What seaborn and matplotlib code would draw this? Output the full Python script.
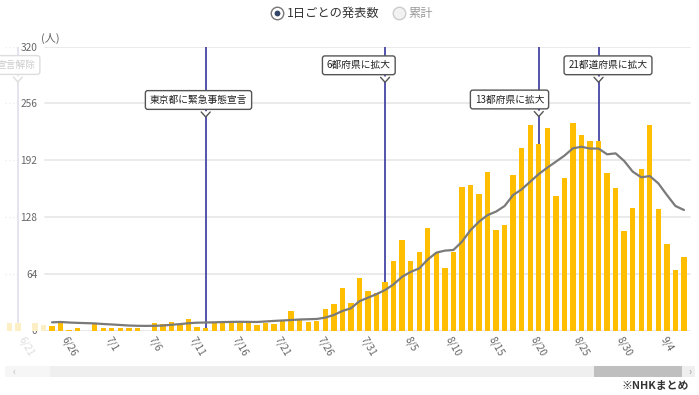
import numpy as np
import pandas as pd
import matplotlib
matplotlib.use("Agg")
import matplotlib.pyplot as plt
import seaborn as sns
from matplotlib.lines import Line2D
from matplotlib.patches import Rectangle, Polygon

# ---------------- data ----------------
dates = ["6/19", "6/20", "6/21", "6/22", "6/23",
         "6/24", "6/25", "6/26", "6/27", "6/28", "6/29", "6/30",
         "7/1", "7/2", "7/3", "7/4", "7/5", "7/6", "7/7", "7/8", "7/9", "7/10",
         "7/11", "7/12", "7/13", "7/14", "7/15", "7/16", "7/17", "7/18", "7/19", "7/20",
         "7/21", "7/22", "7/23", "7/24", "7/25", "7/26", "7/27", "7/28", "7/29", "7/30", "7/31",
         "8/1", "8/2", "8/3", "8/4", "8/5", "8/6", "8/7", "8/8", "8/9", "8/10",
         "8/11", "8/12", "8/13", "8/14", "8/15", "8/16", "8/17", "8/18", "8/19", "8/20",
         "8/21", "8/22", "8/23", "8/24", "8/25", "8/26", "8/27", "8/28", "8/29", "8/30", "8/31",
         "9/1", "9/2", "9/3", "9/4", "9/5", "9/6"]

daily_counts = [8, 8, 0, 8, 6,
                5, 10, 1, 3, 0, 8, 3,
                3, 3, 3, 3, 0, 8, 7, 10, 6, 13,
                4, 3, 8, 9, 9, 9, 8, 6, 9, 7,
                11, 22, 12, 10, 11, 24, 30, 48, 31, 59, 44,
                42, 55, 78, 102, 78, 89, 116, 87, 70, 89,
                162, 164, 154, 179, 113, 119, 175, 206, 232, 210,
                228, 151, 172, 234, 220, 214, 214, 178, 161, 112, 138,
                182, 232, 137, 98, 68, 83]

avg_7day = [np.nan, np.nan, np.nan, np.nan, np.nan,
            9.2, 9.6, 9.0, 8.6, 8.3, 8.0, 7.3,
            6.8, 6.2, 5.6, 5.3, 5.2, 5.3, 5.6, 6.5, 7.2, 8.2,
            8.8, 9.0, 9.2, 9.5, 9.7, 9.8, 9.7, 9.6, 10.2, 10.8,
            11.3, 11.8, 12.4, 12.7, 13.0, 14.5, 17.5, 22.0, 25.0, 33.0, 37.0,
            41.0, 45.6, 52.0, 60.6, 66.0, 70.0, 80.0, 87.7, 90.0, 90.7,
            100.0, 113.0, 122.6, 130.0, 134.0, 140.3, 152.7, 159.0, 167.7, 176.3,
            183.5, 190.2, 197.0, 205.3, 207.0, 205.0, 205.0, 198.5, 199.6, 191.0, 179.0,
            172.6, 174.0, 165.8, 152.7, 140.3, 135.8]

tick_labels = ["6/21", "6/26", "7/1", "7/6", "7/11", "7/16", "7/21", "7/26",
               "7/31", "8/5", "8/10", "8/15", "8/20", "8/25", "8/30", "9/4"]
y_ticks = [0, 64, 128, 192, 256, 320]

event_dates = ["6/20", "7/12", "8/2", "8/20", "8/27"]
event_texts = ["宣言解除", "東京都に緊急事態宣言", "6都府県に拡大", "13都府県に拡大", "21都道府県に拡大"]
visible_from = "6/24"

# ---------------- layout ----------------
W, H = 699, 395
BAR = "#FFBF00"
BAR_FADED = "#fcefc6"
EVENT = "#4545a5"
GRID = "#e6e6e6"

sns.set_theme(style="white")
plt.rcParams["font.family"] = ["Noto Sans CJK JP", "DejaVu Sans"]

fig = plt.figure(figsize=(W / 100, H / 100), dpi=100)
fig.patch.set_facecolor("white")

def fx(x):
    return x / W

def fy(y):
    return 1 - y / H

y0_px, y1_px = 330.5, 46.5
ax = fig.add_axes([0, fy(y0_px), 1, (y0_px - y1_px) / H])
ax.set_facecolor("none")

df = pd.DataFrame({"date": dates, "count": daily_counts, "avg": avg_7day})
df["pos"] = np.arange(len(df))
vis = dates.index(visible_from)

sns.barplot(data=df, x="pos", y="count", color=BAR, saturation=1, width=0.63,
            ax=ax, zorder=2)
for i, p in enumerate(ax.patches):
    p.set_edgecolor("none")
    if i < vis:
        p.set_facecolor(BAR_FADED)

sns.lineplot(data=df.dropna(subset=["avg"]), x="pos", y="avg", color="#7a7a7a",
             linewidth=1.6, ax=ax, zorder=3)

step = 8.54
first_bar_px = 52
ax.set_xlim(vis - first_bar_px / step, vis + (W - first_bar_px) / step)
ax.set_ylim(0, 320)
for s in ax.spines.values():
    s.set_visible(False)
ax.set_xlabel("")
ax.set_ylabel("")

# grid lines
for yv in y_ticks:
    ax.axhline(yv, xmin=fx(45), xmax=fx(690), color=GRID, lw=1.2, zorder=0)
    ax.axhline(yv, xmin=fx(5), xmax=fx(18), color="#eeeeee", lw=1.0, ls=":", zorder=0)

# y tick labels inside the figure
ax.set_yticks(y_ticks)
ax.set_yticklabels([str(v) for v in y_ticks])
ax.tick_params(axis="y", length=0, pad=-37.5 * 0.72, labelsize=7.3, labelcolor="#666666")

# x tick labels
ax.set_xticks([dates.index(t) for t in tick_labels])
ax.set_xticklabels(tick_labels, rotation=-60, ha="center", va="top")
ax.tick_params(axis="x", length=0, pad=3, labelsize=7.3, labelcolor="#666666")
for lbl in ax.get_xticklabels():
    if dates.index(lbl.get_text()) < vis:
        lbl.set_color("#dddddd")

# event lines
for d in event_dates:
    xi = dates.index(d)
    col = "#e2e2ee" if xi < vis else EVENT
    ax.axvline(xi, ymin=0, ymax=1, color=col, lw=1.3, zorder=1)

# callouts (box centre positions in pixels)
box_centers = [(16, 65), (198.5, 100), (358.8, 65.3), (509.5, 99.5), (608, 65.3)]
fig.canvas.draw()
for d, txt, (cx, cy) in zip(event_dates, event_texts, box_centers):
    xi = dates.index(d)
    faded = xi < vis
    tip_x = ax.transData.transform((xi, 0))[0]
    edge = "#dddddd" if faded else "#555555"
    tcol = "#cccccc" if faded else "#222222"
    fig.text(fx(cx), fy(cy), txt, ha="center", va="center", fontsize=7, color=tcol,
             zorder=10,
             bbox=dict(boxstyle="round,pad=0.45,rounding_size=0.25", fc="white",
                       ec=edge, lw=1.0))
    bottom = cy + 12
    tri = Polygon([(fx(tip_x - 4.5), fy(bottom - 0.8)), (fx(tip_x), fy(bottom + 5)),
                   (fx(tip_x + 4.5), fy(bottom - 0.8))], closed=True,
                  transform=fig.transFigure, fc="white", ec="none", zorder=11)
    fig.add_artist(tri)
    fig.add_artist(Line2D([fx(tip_x - 4.5), fx(tip_x), fx(tip_x + 4.5)],
                          [fy(bottom), fy(bottom + 5), fy(bottom)],
                          transform=fig.transFigure, color=edge, lw=1.0, zorder=12))

# unit label
fig.text(fx(41), fy(38), "(人)", ha="left", va="center", fontsize=8, color="#666666")

# legend (radio buttons)
fig.add_artist(Line2D([fx(277)], [fy(13)], marker="o", markersize=9, mfc="white",
                      mec="#777777", mew=1.0, transform=fig.transFigure, zorder=5))
fig.add_artist(Line2D([fx(277)], [fy(13)], marker="o", markersize=4.2, mfc="#34476b",
                      mec="none", transform=fig.transFigure, zorder=6))
fig.text(fx(287), fy(13), "1日ごとの発表数", ha="left", va="center", fontsize=8.8,
         color="#333333")
fig.add_artist(Line2D([fx(398.5)], [fy(13)], marker="o", markersize=9, mfc="#f2f2f2",
                      mec="#cccccc", mew=1.0, transform=fig.transFigure, zorder=5))
fig.text(fx(408), fy(13), "累計", ha="left", va="center", fontsize=8.8, color="#999999")

# scrollbar
fig.add_artist(Rectangle((fx(5), fy(377)), fx(690), (377 - 366) / H,
                         transform=fig.transFigure, fc="#efefef", ec="none"))
fig.add_artist(Rectangle((fx(5), fy(377)), fx(45), (377 - 366) / H,
                         transform=fig.transFigure, fc="#f6f6f6", ec="none"))
fig.add_artist(Rectangle((fx(594), fy(377)), fx(88), (377 - 366) / H,
                         transform=fig.transFigure, fc="#bfbfbf", ec="none"))
fig.text(fx(14), fy(371.5), "‹", ha="center", va="center", fontsize=7, color="#bbbbbb")
fig.text(fx(690), fy(371.5), "›", ha="center", va="center", fontsize=7, color="#999999")

# source note
fig.text(fx(689), fy(386), "※NHKまとめ", ha="right", va="center", fontsize=7.8,
         fontweight="bold", color="#333333")

fig.savefig("out.png", dpi=100)
